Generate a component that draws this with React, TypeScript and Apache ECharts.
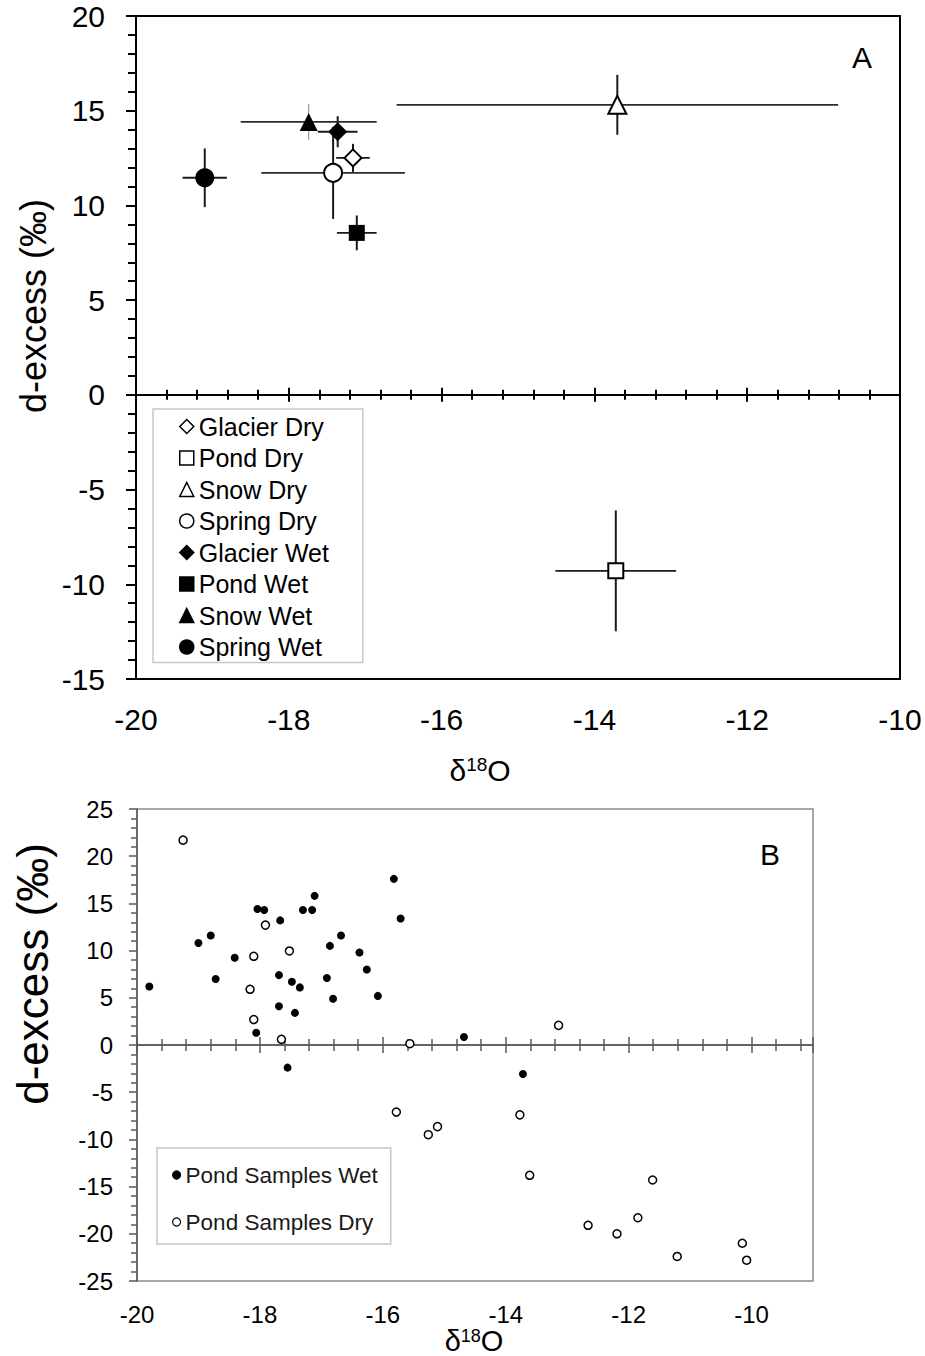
import React, { useEffect, useRef } from "react";
import * as echarts from "echarts";

// ---------- Panel A data ----------
const aNames = ["Glacier Dry", "Pond Dry", "Snow Dry", "Spring Dry", "Glacier Wet", "Pond Wet", "Snow Wet", "Spring Wet"];
const aX = [-17.16, -13.72, -13.70, -17.42, -17.36, -17.11, -17.74, -19.10];
const aY = [12.51, -9.29, 15.31, 11.72, 13.89, 8.55, 14.41, 11.46];
const aXErr = [0.22, 0.79, 2.89, 0.94, 0.26, 0.26, 0.89, 0.29];
const aYErr = [0.74, 3.19, 1.58, 2.43, 0.82, 0.92, 0.95, 1.55];

// ---------- Panel B data ----------
const bWetX = [-19.80, -19.00, -18.80, -18.72, -18.41, -18.04, -17.93, -18.06, -17.67, -17.69, -17.69, -17.48, -17.43, -17.35, -17.30, -17.15, -17.11, -16.91, -16.86, -16.81, -16.68, -16.38, -16.26, -16.08, -15.82, -15.71, -14.68, -17.55, -13.72];
const bWetY = [6.2, 10.8, 11.6, 7.0, 9.25, 14.4, 14.3, 1.3, 13.2, 7.4, 4.1, 6.7, 3.4, 6.1, 14.3, 14.3, 15.8, 7.1, 10.5, 4.9, 11.6, 9.8, 8.0, 5.2, 17.6, 13.4, 0.85, -2.4, -3.07];
const bDryX = [-19.25, -17.91, -18.10, -17.52, -18.16, -18.10, -17.65, -15.56, -13.14, -15.78, -15.26, -15.11, -13.77, -13.61, -12.66, -12.19, -11.85, -11.61, -11.21, -10.15, -10.08];
const bDryY = [21.7, 12.7, 9.4, 9.96, 5.9, 2.7, 0.6, 0.14, 2.08, -7.1, -9.5, -8.65, -7.4, -13.8, -19.1, -20.0, -18.3, -14.3, -22.4, -21.0, -22.8];
const bNames = ["Pond Samples Wet", "Pond Samples Dry"];

// tick label ranges
const aXRange = [-20, -10];
const aYRange = [-15, 20];
const bXRange = [-20, -9];
const bYRange = [-25, 25];

// ---------- styles ----------
const FONT = '"Liberation Sans", Arial, sans-serif';
const aSymbols = ["diamond", "rect", "triangle", "circle", "diamond", "rect", "triangle", "circle"];
const aFilled = [false, false, false, false, true, true, true, true];
const aSizes = [17, 15, 18, 18, 19, 16, 18, 19];
const hColor = ["#1a1a1a", "#1a1a1a", "#2b2b2b", "#2b2b2b", "#1a1a1a", "#1a1a1a", "#2b2b2b", "#1a1a1a"];
const vColor = ["#1a1a1a", "#1a1a1a", "#1a1a1a", "#1a1a1a", "#1a1a1a", "#1a1a1a", "#9a9a9a", "#1a1a1a"];
const vWidth = [2, 2, 2, 2, 2, 2, 1.2, 2];

const GA = { left: 136, top: 16, width: 764, height: 663 };
const GB = { left: 137, top: 809, width: 676, height: 472 };

function buildOption(): any {
  const grids = [
    { ...GA, show: true, borderColor: "#000", borderWidth: 2, backgroundColor: "transparent" },
    { ...GA, show: false },
    { ...GA, show: false },
    { ...GB, show: true, borderColor: "#8c8c8c", borderWidth: 1.5, backgroundColor: "transparent" },
    { ...GB, show: false },
    { ...GB, show: false },
  ];

  const axA = { min: aXRange[0], max: aXRange[1], interval: 2 };
  const ayA = { min: aYRange[0], max: aYRange[1], interval: 5 };
  const axB = { min: bXRange[0], max: bXRange[1], interval: 2 };
  const ayB = { min: bYRange[0], max: bYRange[1], interval: 5 };

  const zeroTickAxis = (gi: number, base: any, inside: boolean, color: string, w: number, major: number, minor: number) => ({
    type: "value", gridIndex: gi, ...base, position: "bottom",
    axisLine: { show: true, onZero: true, lineStyle: { color, width: w } },
    axisTick: { show: true, inside, length: major, lineStyle: { color, width: w } },
    minorTick: { show: true, splitNumber: 5, length: minor, lineStyle: { color, width: w } },
    axisLabel: { show: false }, splitLine: { show: false }, minorSplitLine: { show: false },
  });
  const labelAxis = (gi: number, base: any, fontSize: number, margin: number, showMax: boolean) => ({
    type: "value", gridIndex: gi, ...base, position: "bottom",
    axisLine: { show: false, onZero: false }, axisTick: { show: false }, splitLine: { show: false },
    axisLabel: { show: true, fontSize, color: "#000", fontFamily: FONT, margin, showMaxLabel: showMax },
  });
  const hiddenY = (gi: number, base: any) => ({ type: "value", gridIndex: gi, ...base, show: false, splitLine: { show: false } });

  const xAxis = [
    zeroTickAxis(0, axA, false, "#000", 2, 7, 5),
    zeroTickAxis(1, axA, true, "#000", 2, 7, 5),
    labelAxis(2, axA, 30, 25, true),
    zeroTickAxis(3, axB, false, "#595959", 1.5, 8, 6),
    zeroTickAxis(4, axB, true, "#595959", 1.5, 8, 6),
    labelAxis(5, axB, 24, 21, false),
  ];
  const yAxis = [
    {
      type: "value", gridIndex: 0, ...ayA,
      axisLine: { show: true, onZero: false, lineStyle: { color: "#000", width: 2 } },
      axisTick: { show: true, inside: false, length: 10, lineStyle: { color: "#000", width: 2 } },
      minorTick: { show: true, splitNumber: 5, length: 8, lineStyle: { color: "#000", width: 2 } },
      axisLabel: { fontSize: 30, color: "#000", fontFamily: FONT, margin: 31 },
      splitLine: { show: false },
    },
    hiddenY(1, ayA),
    hiddenY(2, ayA),
    {
      type: "value", gridIndex: 3, ...ayB,
      axisLine: { show: true, onZero: false, lineStyle: { color: "#595959", width: 1.5 } },
      axisTick: { show: true, inside: false, length: 8, lineStyle: { color: "#595959", width: 1.5 } },
      minorTick: { show: true, splitNumber: 5, length: 6, lineStyle: { color: "#595959", width: 1.5 } },
      axisLabel: { fontSize: 24, color: "#000", fontFamily: FONT, margin: 24 },
      splitLine: { show: false },
    },
    hiddenY(4, ayB),
    hiddenY(5, ayB),
  ];

  const series: any[] = [];
  series.push({
    type: "custom",
    xAxisIndex: 0,
    yAxisIndex: 0,
    silent: true,
    z: 1,
    encode: { x: 0, y: 1 },
    data: aX.map((x, i) => [x, aY[i], aXErr[i], aYErr[i], i]),
    renderItem: (params: any, api: any) => {
      const x = api.value(0), y = api.value(1), xe = api.value(2), ye = api.value(3), i = api.value(4);
      const l = api.coord([x - xe, y]);
      const r = api.coord([x + xe, y]);
      const t = api.coord([x, y + ye]);
      const b = api.coord([x, y - ye]);
      return {
        type: "group",
        children: [
          { type: "line", shape: { x1: l[0], y1: l[1], x2: r[0], y2: r[1] }, style: { stroke: hColor[i], lineWidth: 1.8 } },
          { type: "line", shape: { x1: t[0], y1: t[1], x2: b[0], y2: b[1] }, style: { stroke: vColor[i], lineWidth: vWidth[i] } },
        ],
      };
    },
  });
  aNames.forEach((name, i) => {
    series.push({
      type: "scatter",
      name,
      xAxisIndex: 0,
      yAxisIndex: 0,
      z: 3,
      symbol: aSymbols[i],
      symbolSize: aSizes[i],
      itemStyle: { color: aFilled[i] ? "#000" : "#fff", borderColor: "#000", borderWidth: aFilled[i] ? 0 : 2, opacity: 1 },
      data: [[aX[i], aY[i]]],
    });
  });
  series.push({
    type: "scatter",
    name: bNames[0],
    xAxisIndex: 3,
    yAxisIndex: 3,
    symbol: "circle",
    symbolSize: 8,
    itemStyle: { color: "#000", opacity: 1 },
    data: bWetX.map((x, i) => [x, bWetY[i]]),
  });
  series.push({
    type: "scatter",
    name: bNames[1],
    xAxisIndex: 3,
    yAxisIndex: 3,
    symbol: "circle",
    symbolSize: 8,
    itemStyle: { color: "#fff", borderColor: "#000", borderWidth: 1.5, opacity: 1 },
    data: bDryX.map((x, i) => [x, bDryY[i]]),
  });

  const legend = [
    {
      data: aNames.map((n, i) => ({ name: n, itemStyle: { color: aFilled[i] ? "#000" : "#fff", borderColor: "#000", borderWidth: 1.5 } })),
      orient: "vertical",
      left: 153,
      top: 409,
      padding: [5, 34, 3, 26],
      itemGap: 6.5,
      itemWidth: 14,
      itemHeight: 14,
      backgroundColor: "#fff",
      borderColor: "#c8c8c8",
      borderWidth: 1.5,
      selectedMode: false,
      textStyle: { fontSize: 25, color: "#000", fontFamily: FONT, lineHeight: 25 },
    },
    {
      data: bNames.map((n, i) => ({ name: n, itemStyle: { color: i === 0 ? "#000" : "#fff", borderColor: "#000", borderWidth: 1.2 } })),
      orient: "vertical",
      left: 157,
      top: 1148,
      padding: [15, 13, 10, 15],
      itemGap: 23,
      itemWidth: 8,
      itemHeight: 8,
      backgroundColor: "#fff",
      borderColor: "#c8c8c8",
      borderWidth: 1.5,
      selectedMode: false,
      textStyle: { fontSize: 22.5, color: "#1a1a1a", fontFamily: FONT, lineHeight: 24 },
    },
  ];

  const graphic = [
    {
      type: "text", x: 33, y: 306, rotation: Math.PI / 2,
      style: { text: "d-excess (‰)", fontSize: 36, fontFamily: FONT, fill: "#000", align: "center", verticalAlign: "middle" },
    },
    {
      type: "text", x: 480, y: 770,
      style: {
        text: "{a|δ}{s|18}{a|O}", align: "center", verticalAlign: "middle",
        rich: {
          a: { fontSize: 30, fontFamily: FONT, fill: "#000" },
          s: { fontSize: 19, fontFamily: FONT, fill: "#000", verticalAlign: "top" },
        },
      },
    },
    { type: "text", x: 862, y: 57, style: { text: "A", fontSize: 30, fontFamily: FONT, fill: "#000", align: "center", verticalAlign: "middle" } },
    {
      type: "text", x: 32, y: 974, rotation: Math.PI / 2,
      style: { text: "d-excess (‰)", fontSize: 44, fontFamily: FONT, fill: "#000", align: "center", verticalAlign: "middle" },
    },
    {
      type: "text", x: 474, y: 1341,
      style: {
        text: "{a|δ}{s|18}{a|O}", align: "center", verticalAlign: "middle",
        rich: {
          a: { fontSize: 29, fontFamily: FONT, fill: "#000" },
          s: { fontSize: 18, fontFamily: FONT, fill: "#000", verticalAlign: "top" },
        },
      },
    },
    { type: "text", x: 770, y: 854, style: { text: "B", fontSize: 30, fontFamily: FONT, fill: "#000", align: "center", verticalAlign: "middle" } },
  ];

  return {
    animation: false,
    backgroundColor: "#fff",
    textStyle: { fontFamily: FONT },
    grid: grids,
    xAxis,
    yAxis,
    legend,
    series,
    graphic,
  };
}

export default function App() {
  const ref = useRef<HTMLDivElement>(null);
  useEffect(() => {
    if (!ref.current) return;
    const chart = echarts.init(ref.current, undefined, { renderer: "svg" });
    chart.setOption(buildOption());
    return () => chart.dispose();
  }, []);
  return (
    <div
      ref={ref}
      style={{ position: "absolute", left: 0, top: 0, width: 925, height: 1356, background: "#fff" }}
    />
  );
}
